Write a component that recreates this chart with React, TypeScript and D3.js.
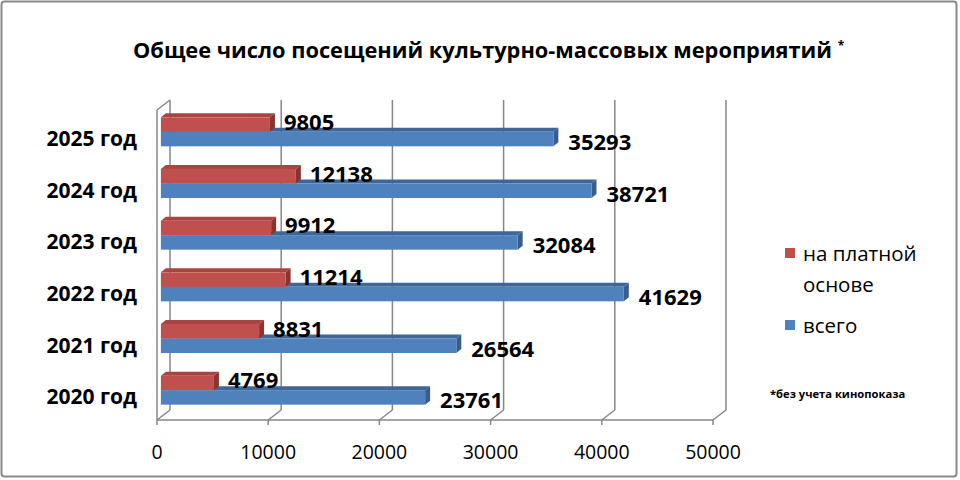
import React from "react";
import * as d3 from "d3";

const categories = ["2025 год", "2024 год", "2023 год", "2022 год", "2021 год", "2020 год"];
const paidValues = [9805, 12138, 9912, 11214, 8831, 4769];
const totalValues = [35293, 38721, 32084, 41629, 26564, 23761];
const xTicks = [0, 10000, 20000, 30000, 40000, 50000];
const seriesNames = ["на платной", "основе", "всего"];
const titleText = "Общее число посещений культурно-массовых мероприятий";
const footnote = "*без учета кинопоказа";

const W = 960;
const H = 480;
const FONT = "'Open Sans', 'Noto Sans', sans-serif";

export default function App() {
  const x = d3.scaleLinear().domain([0, 50000]).range([157, 713]);
  const y = d3.scaleBand().domain(categories).range([110, 420]).paddingInner(0).paddingOuter(0);
  const DX = 13; // wall depth
  const DY = -10;
  const bdx = 5; // bar depth
  const bdy = -4;
  const barOffX = 3.9;
  const barH = 14.5;
  const gridColor = "#878787";

  const red = { front: "#C0504D", top: "#A84441", side: "#8A3431" };
  const blue = { front: "#4F81BD", top: "#3E6699", side: "#375D8B" };

  const bar = (v: number, yTop: number, c: typeof red, key: string) => {
    const x0 = x(0) + barOffX;
    const x1 = x(v) + barOffX;
    const yB = yTop + barH;
    const topPts = [
      [x0, yTop],
      [x1, yTop],
      [x1 + bdx, yTop + bdy],
      [x0 + bdx, yTop + bdy],
    ];
    const sidePts = [
      [x1, yTop],
      [x1 + bdx, yTop + bdy],
      [x1 + bdx, yB + bdy],
      [x1, yB],
    ];
    return (
      <g key={key}>
        <polygon points={topPts.map((p) => p.join(",")).join(" ")} fill={c.top} />
        <polygon points={sidePts.map((p) => p.join(",")).join(" ")} fill={c.side} />
        <rect x={x0} y={yTop} width={x1 - x0} height={barH} fill={c.front} />
      </g>
    );
  };

  return (
    <svg
      width={W}
      height={H}
      style={{ position: "absolute", left: 0, top: 0, background: "#fff" }}
      fontFamily={FONT}
    >
      <rect x={1.5} y={1.5} width={955} height={475} fill="#fff" stroke="#8a8a8a" strokeWidth={2} rx={3} />

      {/* title */}
      <text x={482.5} y={58} textAnchor="middle" fontSize={21.8} fontWeight="bold" fill="#000">
        {titleText}
      </text>
      <text x={841} y={50} textAnchor="middle" fontSize={12} fontWeight="bold" fill="#000">
        *
      </text>

      {/* walls and gridlines */}
      <g stroke={gridColor} strokeWidth={1.5} fill="none">
        <line x1={x(0)} y1={110} x2={x(0)} y2={420} />
        <line x1={x(0)} y1={110} x2={x(0) + DX} y2={110 + DY} />
        <line x1={x(0)} y1={420} x2={x(50000)} y2={420} />
        {xTicks.map((t) => (
          <g key={t}>
            <line x1={x(t) + DX} y1={110 + DY} x2={x(t) + DX} y2={420 + DY} />
            <line x1={x(t) + DX} y1={420 + DY} x2={x(t)} y2={420} />
            <line x1={x(t)} y1={420} x2={x(t)} y2={425} />
          </g>
        ))}
      </g>

      {/* x tick labels */}
      {xTicks.map((t) => (
        <text key={t} x={x(t)} y={451} textAnchor="middle" dominantBaseline="central" fontSize={19.5} fill="#000">
          {t}
        </text>
      ))}

      {/* category labels */}
      {categories.map((c) => (
        <text
          key={c}
          x={137}
          y={(y(c) as number) + y.bandwidth() / 2 + 2}
          textAnchor="end"
          dominantBaseline="central"
          fontSize={21}
          fontWeight="bold"
          fill="#000"
        >
          {c}
        </text>
      ))}

      {/* bars */}
      {categories.map((c, i) => {
        const cy = (y(c) as number) + y.bandwidth() / 2 - 4;
        return (
          <g key={c}>
            {bar(totalValues[i], cy, blue, "b")}
            {bar(paidValues[i], cy - barH, red, "r")}
            <text
              x={x(paidValues[i]) + barOffX + bdx + 9}
              y={cy + 4 - 15}
              dominantBaseline="central"
              fontSize={22}
              fontWeight="bold"
              fill="#000"
            >
              {paidValues[i]}
            </text>
            <text
              x={x(totalValues[i]) + barOffX + bdx + 10}
              y={cy + 4 + 5}
              dominantBaseline="central"
              fontSize={22}
              fontWeight="bold"
              fill="#000"
            >
              {totalValues[i]}
            </text>
          </g>
        );
      })}

      {/* legend */}
      <rect x={785} y={248} width={10} height={10} fill={red.front} />
      <text x={803} y={253} dominantBaseline="central" fontSize={20.5} fill="#000">
        {seriesNames[0]}
      </text>
      <text x={803} y={284} dominantBaseline="central" fontSize={20.5} fill="#000">
        {seriesNames[1]}
      </text>
      <rect x={785} y={320} width={10} height={10} fill={blue.front} />
      <text x={803} y={325} dominantBaseline="central" fontSize={20.5} fill="#000">
        {seriesNames[2]}
      </text>

      <text x={770} y={393} dominantBaseline="central" fontSize={11.2} fontWeight="bold" fill="#000">
        {footnote}
      </text>
    </svg>
  );
}
